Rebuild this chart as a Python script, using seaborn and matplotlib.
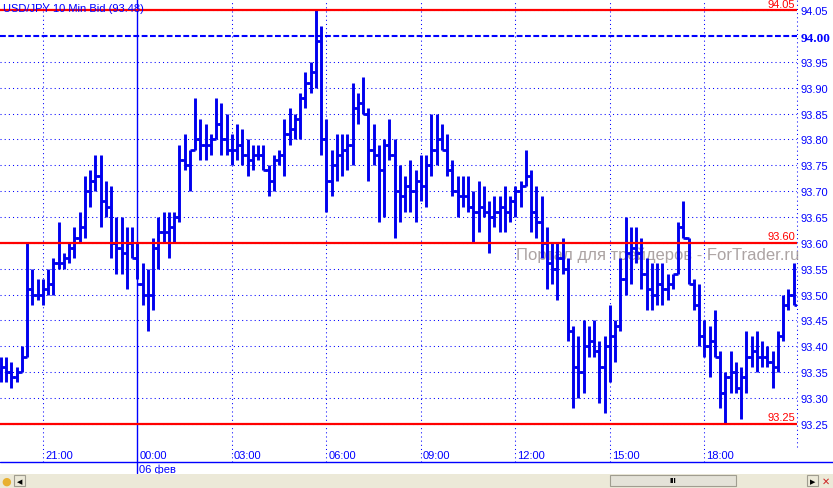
import numpy as np
import pandas as pd
import matplotlib
matplotlib.use("Agg")
import matplotlib.pyplot as plt
import seaborn as sns
from matplotlib.lines import Line2D
from matplotlib.patches import Rectangle

# USD/JPY 10-minute bid bars
bar_open = [
    93.35, 93.36, 93.35, 93.34, 93.35, 93.38, 93.51, 93.50, 93.50, 93.51,
    93.52, 93.56, 93.56, 93.57, 93.59, 93.61, 93.63, 93.70, 93.72, 93.73,
    93.68, 93.67, 93.60, 93.59, 93.58, 93.60, 93.57, 93.52, 93.50, 93.50,
    93.59, 93.62, 93.62, 93.63, 93.65, 93.76, 93.75, 93.78, 93.80, 93.79,
    93.79, 93.80, 93.83, 93.80, 93.78, 93.78, 93.79, 93.77, 93.76, 93.77,
    93.77, 93.74, 93.72, 93.76, 93.77, 93.81, 93.82, 93.84, 93.88, 93.91,
    93.93, 93.99, 93.80, 93.72, 93.75, 93.77, 93.78, 93.79, 93.86, 93.87,
    93.85, 93.78, 93.77, 93.74, 93.79, 93.77, 93.70, 93.69, 93.71, 93.70,
    93.72, 93.71, 93.75, 93.78, 93.80, 93.78, 93.74, 93.70, 93.69, 93.69,
    93.67, 93.66, 93.67, 93.66, 93.65, 93.66, 93.67, 93.66, 93.68, 93.70,
    93.71, 93.73, 93.66, 93.64, 93.60, 93.56, 93.55, 93.57, 93.55, 93.43,
    93.36, 93.35, 93.40, 93.41, 93.39, 93.36, 93.40, 93.42, 93.44, 93.53,
    93.58, 93.59, 93.58, 93.54, 93.51, 93.50, 93.52, 93.51, 93.52, 93.54,
    93.63, 93.61, 93.52, 93.48, 93.42, 93.40, 93.41, 93.38, 93.31, 93.34,
    93.35, 93.32, 93.34, 93.38, 93.39, 93.38, 93.38, 93.37, 93.36, 93.42,
    93.48, 93.50]
bar_high = [
    93.38, 93.38, 93.37, 93.36, 93.40, 93.60, 93.55, 93.53, 93.53, 93.55,
    93.57, 93.64, 93.58, 93.60, 93.63, 93.66, 93.73, 93.74, 93.77, 93.77,
    93.72, 93.71, 93.65, 93.65, 93.63, 93.63, 93.60, 93.56, 93.55, 93.61,
    93.65, 93.66, 93.66, 93.66, 93.79, 93.81, 93.78, 93.88, 93.84, 93.83,
    93.81, 93.88, 93.87, 93.85, 93.81, 93.83, 93.82, 93.80, 93.79, 93.79,
    93.79, 93.75, 93.77, 93.78, 93.84, 93.86, 93.85, 93.89, 93.93, 93.95,
    94.05, 94.02, 93.84, 93.78, 93.81, 93.81, 93.81, 93.91, 93.89, 93.92,
    93.86, 93.83, 93.79, 93.80, 93.84, 93.80, 93.75, 93.73, 93.76, 93.74,
    93.77, 93.77, 93.85, 93.85, 93.83, 93.81, 93.76, 93.73, 93.73, 93.73,
    93.70, 93.72, 93.71, 93.68, 93.69, 93.69, 93.71, 93.69, 93.71, 93.72,
    93.78, 93.74, 93.71, 93.69, 93.63, 93.60, 93.60, 93.61, 93.57, 93.44,
    93.42, 93.45, 93.44, 93.45, 93.41, 93.42, 93.48, 93.45, 93.57, 93.65,
    93.63, 93.63, 93.61, 93.57, 93.56, 93.56, 93.56, 93.54, 93.54, 93.64,
    93.68, 93.61, 93.53, 93.52, 93.45, 93.44, 93.47, 93.39, 93.35, 93.39,
    93.37, 93.36, 93.43, 93.42, 93.43, 93.41, 93.40, 93.39, 93.43, 93.50,
    93.51, 93.56]
bar_low = [
    93.33, 93.33, 93.32, 93.33, 93.35, 93.38, 93.48, 93.49, 93.48, 93.50,
    93.50, 93.55, 93.55, 93.56, 93.57, 93.60, 93.61, 93.67, 93.70, 93.63,
    93.65, 93.57, 93.54, 93.54, 93.51, 93.57, 93.53, 93.48, 93.43, 93.47,
    93.55, 93.60, 93.57, 93.60, 93.64, 93.74, 93.70, 93.78, 93.76, 93.76,
    93.77, 93.80, 93.77, 93.77, 93.75, 93.76, 93.75, 93.73, 93.74, 93.76,
    93.74, 93.69, 93.70, 93.75, 93.73, 93.79, 93.80, 93.80, 93.86, 93.89,
    93.90, 93.77, 93.66, 93.69, 93.72, 93.73, 93.74, 93.75, 93.83, 93.85,
    93.72, 93.75, 93.64, 93.65, 93.76, 93.61, 93.64, 93.66, 93.66, 93.64,
    93.68, 93.67, 93.73, 93.75, 93.78, 93.73, 93.69, 93.65, 93.67, 93.66,
    93.60, 93.62, 93.65, 93.58, 93.63, 93.62, 93.62, 93.64, 93.65, 93.67,
    93.71, 93.62, 93.61, 93.57, 93.51, 93.52, 93.49, 93.54, 93.41, 93.28,
    93.30, 93.31, 93.38, 93.38, 93.29, 93.27, 93.33, 93.37, 93.43, 93.50,
    93.52, 93.56, 93.51, 93.47, 93.47, 93.48, 93.48, 93.49, 93.51, 93.54,
    93.61, 93.52, 93.47, 93.40, 93.38, 93.34, 93.38, 93.28, 93.25, 93.31,
    93.31, 93.26, 93.31, 93.36, 93.35, 93.36, 93.36, 93.32, 93.35, 93.41,
    93.47, 93.48]
bar_close = [
    93.36, 93.35, 93.34, 93.35, 93.38, 93.51, 93.50, 93.50, 93.51, 93.52,
    93.56, 93.56, 93.57, 93.59, 93.61, 93.63, 93.70, 93.72, 93.73, 93.68,
    93.67, 93.60, 93.59, 93.58, 93.60, 93.57, 93.52, 93.50, 93.50, 93.59,
    93.62, 93.62, 93.63, 93.65, 93.76, 93.75, 93.78, 93.80, 93.79, 93.79,
    93.80, 93.83, 93.80, 93.78, 93.78, 93.79, 93.77, 93.76, 93.77, 93.77,
    93.74, 93.72, 93.76, 93.77, 93.81, 93.82, 93.84, 93.88, 93.91, 93.93,
    93.99, 93.80, 93.72, 93.75, 93.77, 93.78, 93.79, 93.86, 93.87, 93.85,
    93.78, 93.77, 93.74, 93.79, 93.77, 93.70, 93.69, 93.71, 93.70, 93.72,
    93.71, 93.75, 93.78, 93.80, 93.78, 93.74, 93.70, 93.69, 93.69, 93.67,
    93.66, 93.67, 93.66, 93.65, 93.66, 93.67, 93.66, 93.68, 93.70, 93.71,
    93.73, 93.66, 93.64, 93.60, 93.56, 93.55, 93.57, 93.55, 93.43, 93.36,
    93.35, 93.40, 93.41, 93.39, 93.36, 93.40, 93.42, 93.44, 93.53, 93.58,
    93.59, 93.58, 93.54, 93.51, 93.50, 93.52, 93.51, 93.52, 93.54, 93.63,
    93.61, 93.52, 93.48, 93.42, 93.40, 93.41, 93.38, 93.31, 93.34, 93.35,
    93.32, 93.34, 93.38, 93.39, 93.38, 93.38, 93.37, 93.36, 93.42, 93.48,
    93.50, 93.48]

price_ticks = [93.25, 93.30, 93.35, 93.40, 93.45, 93.50, 93.55, 93.60,
               93.65, 93.70, 93.75, 93.80, 93.85, 93.90, 93.95, 94.00, 94.05]
red_levels = [94.05, 93.60, 93.25]
round_level = 94.00
first_bar = "2009-02-05 19:40"
title_text = "USD/JPY 10 Min Bid (93.48)"
date_label = "06 фев"
watermark = "Портал для трейдеров - ForTrader.ru"

BLUE = "#0000ff"
BAR_BLUE = "#0000ee"
RED = "#ff0000"
W, H = 833, 489


def px(x, y):
    # pixel coords (from top-left) -> figure fraction
    return x / W, 1 - y / H


def main():
    sns.set_style("white")
    plt.rcParams['font.family'] = ['Liberation Sans', 'DejaVu Sans']

    times = pd.date_range(first_bar, periods=len(bar_close), freq="10min")
    df = pd.DataFrame({"time": times, "open": bar_open, "high": bar_high,
                       "low": bar_low, "close": bar_close})
    df["x"] = np.arange(len(df))

    fig = plt.figure(figsize=(W / 100, H / 100), dpi=100)
    fig.patch.set_facecolor("white")
    ax = fig.add_axes([0, 1 - 463 / H, 797 / W, 463 / H])
    ax.set_facecolor("white")

    # OHLC bars
    ax.vlines(df["x"], df["low"], df["high"], color=BAR_BLUE, lw=2.1,
              capstyle="butt", zorder=5)
    ax.hlines(df["open"], df["x"] - 0.62, df["x"], color=BAR_BLUE, lw=1.9,
              zorder=5)
    ax.hlines(df["close"], df["x"], df["x"] + 0.62, color=BAR_BLUE, lw=1.9,
              zorder=5)

    ax.set_xlim(-0.19, 151.62)
    ax.set_ylim(93.176, 94.0716)

    # horizontal grid
    for p in price_ticks:
        if p == round_level:
            ax.axhline(p, color=BLUE, lw=1.5, ls=(0, (2.8, 1.2)), zorder=2)
        else:
            ax.axhline(p, color=BLUE, lw=0.75, ls=(0, (1, 3)), zorder=2)

    # vertical time grid every 3 hours, solid line at day change
    marks = df[(df["time"].dt.minute == 0) & (df["time"].dt.hour % 3 == 0)]
    for _, row in marks.iterrows():
        if row["time"].hour == 0:
            ax.axvline(row["x"], ymin=-0.024, color=BLUE, lw=1.0,
                       clip_on=False, zorder=3)
            ax.annotate(date_label, xy=(row["x"], 0),
                        xycoords=("data", "axes fraction"),
                        xytext=(2, -2), textcoords="offset pixels",
                        ha="left", va="top", fontsize=8, color=BLUE,
                        annotation_clip=False)
        else:
            ax.axvline(row["x"], color=BLUE, lw=0.75, ls=(0, (1, 3)), zorder=2)
        ax.annotate(row["time"].strftime("%H:%M"), xy=(row["x"], 0),
                    xycoords=("data", "axes fraction"),
                    xytext=(2, 2), textcoords="offset pixels",
                    ha="left", va="bottom", fontsize=8, color=BLUE)

    # right price scale
    ax.axvline(ax.get_xlim()[1], ymin=15 / 463, color=BLUE, lw=0.75,
               ls=(0, (1, 3)), clip_on=False, zorder=3)
    ax.yaxis.tick_right()
    ax.set_yticks(price_ticks)
    ax.set_yticklabels([f"{p:.2f}" for p in price_ticks])
    ax.tick_params(axis="y", length=0, pad=2.5, labelsize=8,
                   labelcolor=BLUE)
    for lab, p in zip(ax.get_yticklabels(), price_ticks):
        if p == round_level:
            lab.set_fontweight("bold")
            lab.set_family(["Liberation Serif", "DejaVu Serif"])
            lab.set_fontsize(9.5)
    ax.set_xticks([])

    # red levels with labels
    for lvl in red_levels:
        ax.axhline(lvl, color=RED, lw=1.6, zorder=6)
        ax.annotate(f"{lvl:.2f}", xy=(1, lvl),
                    xycoords=("axes fraction", "data"),
                    xytext=(-2, 1.5), textcoords="offset pixels",
                    ha="right", va="bottom", fontsize=8, color=RED,
                    zorder=7)

    # watermark
    ax.text(0.647, 0.448, watermark, transform=ax.transAxes, fontsize=12,
            color="#9e9494", alpha=0.85, ha="left", va="center", zorder=4)

    for s in ax.spines.values():
        s.set_visible(False)

    # title inside plot
    fig.text(*px(3, 12), title_text, fontsize=8, color=BLUE,
             ha="left", va="baseline",
             family=["Liberation Sans Narrow", "Liberation Sans"])

    # bottom axis line and status strip
    fig.add_artist(Line2D([0, 1], [1 - 463 / H] * 2, color=BLUE, lw=1.0,
                          transform=fig.transFigure))
    fig.add_artist(Rectangle((0, 0), 1, 14 / H, transform=fig.transFigure,
                             facecolor="#ece9d8", edgecolor="none"))
    fig.add_artist(Rectangle(px(610, 487), 126 / W, 11 / H,
                             transform=fig.transFigure, facecolor="#e4e2d8",
                             edgecolor="#a09d90", lw=0.8))
    fig.text(*px(673, 482), "III", fontsize=6, fontweight="bold",
             ha="center", va="center", color="black")
    fig.add_artist(Rectangle(px(14, 487), 11 / W, 11 / H,
                             transform=fig.transFigure, facecolor="#ece9d8",
                             edgecolor="#a09d90", lw=0.8))
    fig.text(*px(19.5, 482), "◀", fontsize=5, ha="center", va="center",
             color="black", family="DejaVu Sans")
    fig.add_artist(Rectangle(px(807, 487), 11 / W, 11 / H,
                             transform=fig.transFigure, facecolor="#ece9d8",
                             edgecolor="#a09d90", lw=0.8))
    fig.text(*px(812.5, 482), "▶", fontsize=5, ha="center", va="center",
             color="black", family="DejaVu Sans")
    fig.text(*px(6, 482), "●", fontsize=8, ha="center", va="center",
             color="#e8b030", family="DejaVu Sans")
    fig.text(*px(826, 482), "✕", fontsize=7, ha="center", va="center",
             color="#cc2020", family="DejaVu Sans")

    plt.savefig("out.png", dpi=100)


if __name__ == "__main__":
    main()
